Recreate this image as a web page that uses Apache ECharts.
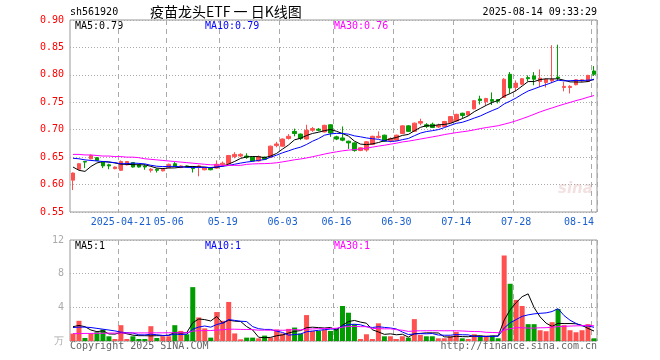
<!DOCTYPE html>
<html><head><meta charset="utf-8">
<script src="https://cdn.jsdelivr.net/npm/echarts@6/dist/echarts.min.js"></script>
<style>html,body{margin:0;padding:0;background:#fff}#c{width:660px;height:360px}</style>
</head><body><div id="c"></div>
<script>
const dates = [
'2025-04-09','2025-04-10','2025-04-11','2025-04-14','2025-04-15','2025-04-16','2025-04-17','2025-04-18','2025-04-21','2025-04-22','2025-04-23','2025-04-24','2025-04-25','2025-04-28','2025-04-29','2025-04-30',
'2025-05-06','2025-05-07','2025-05-08','2025-05-09','2025-05-12','2025-05-13','2025-05-14','2025-05-15','2025-05-16','2025-05-19','2025-05-20','2025-05-21','2025-05-22','2025-05-23','2025-05-26','2025-05-27','2025-05-28','2025-05-29','2025-05-30',
'2025-06-03','2025-06-04','2025-06-05','2025-06-06','2025-06-09','2025-06-10','2025-06-11','2025-06-12','2025-06-13','2025-06-16','2025-06-17','2025-06-18','2025-06-19','2025-06-20','2025-06-23','2025-06-24','2025-06-25','2025-06-26','2025-06-27','2025-06-30',
'2025-07-01','2025-07-02','2025-07-03','2025-07-04','2025-07-07','2025-07-08','2025-07-09','2025-07-10','2025-07-11','2025-07-14','2025-07-15','2025-07-16','2025-07-17','2025-07-18','2025-07-21','2025-07-22','2025-07-23','2025-07-24','2025-07-25','2025-07-28','2025-07-29','2025-07-30','2025-07-31',
'2025-08-01','2025-08-04','2025-08-05','2025-08-06','2025-08-07','2025-08-08','2025-08-11','2025-08-12','2025-08-13','2025-08-14'];

const opens  = [0.608,0.628,0.642,0.647,0.649,0.642,0.636,0.629,0.626,0.636,0.640,0.636,0.634,0.626,0.628,0.625,
0.631,0.638,0.631,0.634,0.632,0.632,0.627,0.630,0.630,0.636,0.638,0.651,0.652,0.652,0.650,0.643,0.650,0.650,0.671,
0.670,0.684,0.697,0.692,0.683,0.699,0.701,0.696,0.709,0.687,0.685,0.679,0.676,0.662,0.663,0.673,0.686,0.690,0.680,0.681,
0.693,0.707,0.697,0.712,0.709,0.710,0.705,0.706,0.713,0.716,0.730,0.727,0.738,0.756,0.751,0.755,0.755,0.759,0.801,0.777,0.783,0.795,0.798,
0.788,0.786,0.789,0.796,0.777,0.777,0.782,0.789,0.788,0.807];
const closes = [0.621,0.638,0.641,0.653,0.644,0.634,0.634,0.632,0.642,0.642,0.632,0.632,0.632,0.628,0.626,0.628,
0.637,0.633,0.634,0.632,0.629,0.634,0.631,0.627,0.637,0.639,0.653,0.655,0.655,0.650,0.643,0.651,0.646,0.670,0.674,
0.683,0.688,0.693,0.684,0.699,0.702,0.699,0.708,0.694,0.683,0.681,0.676,0.662,0.667,0.678,0.688,0.688,0.679,0.684,0.690,
0.707,0.697,0.712,0.715,0.706,0.704,0.708,0.715,0.724,0.728,0.726,0.733,0.753,0.753,0.757,0.752,0.752,0.792,0.776,0.785,0.793,0.793,0.792,
0.794,0.792,0.792,0.794,0.779,0.779,0.791,0.791,0.799,0.801];
const lows   = [0.590,0.627,0.630,0.646,0.643,0.630,0.628,0.628,0.625,0.635,0.631,0.631,0.627,0.622,0.622,0.624,
0.630,0.632,0.630,0.631,0.622,0.615,0.626,0.626,0.629,0.634,0.637,0.648,0.650,0.647,0.642,0.642,0.645,0.649,0.668,
0.669,0.682,0.688,0.681,0.682,0.696,0.697,0.695,0.687,0.681,0.679,0.665,0.660,0.661,0.660,0.672,0.684,0.678,0.677,0.680,
0.692,0.696,0.696,0.708,0.703,0.703,0.703,0.705,0.712,0.715,0.721,0.726,0.737,0.746,0.744,0.745,0.748,0.758,0.766,0.770,0.781,0.788,0.781,
0.778,0.777,0.785,0.790,0.770,0.766,0.781,0.787,0.787,0.798];
const highs  = [0.622,0.639,0.643,0.655,0.650,0.643,0.638,0.633,0.644,0.643,0.641,0.637,0.637,0.630,0.629,0.629,
0.638,0.641,0.635,0.635,0.633,0.636,0.632,0.631,0.644,0.642,0.654,0.659,0.657,0.657,0.651,0.653,0.651,0.671,0.678,
0.684,0.692,0.702,0.693,0.709,0.705,0.703,0.709,0.710,0.689,0.706,0.680,0.677,0.668,0.679,0.689,0.697,0.691,0.686,0.691,
0.708,0.708,0.713,0.720,0.712,0.713,0.711,0.716,0.725,0.729,0.731,0.734,0.754,0.762,0.758,0.768,0.756,0.794,0.805,0.790,0.794,0.799,0.805,
0.810,0.793,0.854,0.855,0.787,0.781,0.792,0.792,0.800,0.816];

// volume (万)
const volumes = [0.88,2.4,0.36,0.88,1.04,1.36,0.56,0.24,1.88,0.24,0.56,0.24,0.24,1.76,0.36,0.56,
0.56,1.88,1.2,0.8,6.4,2.8,1.5,0.4,3.44,2.4,4.64,0.9,0.2,0.4,0.4,0.32,0.64,0.4,1.36,
0.9,1.44,1.6,0.88,3.08,1.2,1.2,1.36,1.2,1.48,4.16,3.36,2.0,0.24,0.8,0.24,2.1,0.56,0.56,0.24,
0.56,0.4,2.6,0.72,0.56,0.56,0.32,0.32,0.56,1.08,0.32,0.24,0.8,0.64,0.64,0.64,0.32,10.16,6.8,4.88,4.16,2.0,2.0,
1.28,1.16,2.24,3.8,1.88,1.28,1.04,1.28,2.0,0.32];

// moving-average values read at the start of the window (before enough in-window data exists)
const ma5Lead  = [0.632,0.626,0.624,0.633];
const ma10Lead = [0.648,0.647,0.645,0.644,0.643,0.642,0.641,0.640,0.638];
const ma30Lead = [0.655,0.655,0.654,0.654,0.653,0.652,0.652,0.651,0.651,0.650,0.650,0.649,0.647,0.646,0.645,0.644,0.643,0.642,0.641,0.640,0.639,0.638,0.637,0.636,0.636,0.635,0.635,0.635,0.635];
const vma5Lead  = [1.7,1.85,1.7,1.3];
const vma10Lead = [1.6,1.65,1.65,1.6,1.5,1.4,1.3,1.2,1.05];
const vma30Lead = [0.88,0.88,0.9,0.9,0.92,0.92,0.94,0.94,0.95,0.95,0.96,0.96,0.96,0.97,0.97,0.97,0.98,0.98,0.98,0.98,1.18,1.22,1.24,1.24,1.3,1.34,1.4,1.4,1.38];

const tickDates  = ['2025-04-21','2025-05-06','2025-05-19','2025-06-03','2025-06-16','2025-06-30','2025-07-14','2025-07-28','2025-08-14'];
const tickLabels = ['2025-04-21','05-06','05-19','06-03','06-16','06-30','07-14','07-28','08-14'];
const priceTicks = {min:0.55, max:0.90, step:0.05};
const volTicks = {min:0, max:12, step:4};

const legendPrice = ['MA5:0.79','MA10:0.79','MA30:0.76'];
const legendVol = ['MA5:1','MA10:1','MA30:1'];

function ma(src, n, lead){
  return src.map((v,i)=>{
    if(i < n-1) return lead[i];
    let s=0; for(let k=i-n+1;k<=i;k++) s+=src[k];
    return +(s/n).toFixed(4);
  });
}
const UP='#ff5050', DOWN='#009c00';
const MONO='DejaVu Sans Mono';
const kData = dates.map((d,i)=>[opens[i],closes[i],lows[i],highs[i]]);
const volData = volumes.map((v,i)=>({value:v,itemStyle:{color: closes[i]>=opens[i]?UP:DOWN}}));
const tickSet = new Set(tickDates.map(d=>dates.indexOf(d)));
const showTick = (i)=>tickSet.has(i);

const chart = echarts.init(document.getElementById('c'), null, {renderer:'canvas'});
const lineS = (name,data,color,x,y)=>({name,type:'line',data,xAxisIndex:x,yAxisIndex:y,symbol:'none',smooth:false,
  lineStyle:{color,width:1},itemStyle:{color},silent:true,z:3});
const splitX = {show:true, interval:(i)=>showTick(i), lineStyle:{color:'#aaa',type:[5,4],width:1}};

chart.setOption({
  animation:false,
  backgroundColor:'#fff',
  grid:[
    {left:70,right:63,top:20,height:192,show:true,borderColor:'#999',borderWidth:1,backgroundColor:'transparent'},
    {left:70,right:63,top:240,height:101,show:true,borderColor:'#999',borderWidth:1,backgroundColor:'transparent'}
  ],
  xAxis:[
    {type:'category',data:dates,gridIndex:0,boundaryGap:true,axisLine:{show:false},axisTick:{show:false},
     axisLabel:{interval:(i)=>showTick(i),formatter:(v)=>tickLabels[tickDates.indexOf(v)],color:'#1a5fd0',fontFamily:MONO,fontSize:10,margin:5,alignMaxLabel:'right'},
     splitLine:splitX},
    {type:'category',data:dates,gridIndex:1,boundaryGap:true,axisLine:{show:false},axisTick:{show:false},
     axisLabel:{show:false},splitLine:splitX}
  ],
  yAxis:[
    {type:'value',gridIndex:0,min:priceTicks.min,max:priceTicks.max,interval:priceTicks.step,scale:true,
     axisLine:{show:false},axisTick:{show:false},
     axisLabel:{color:'#ff0000',fontFamily:MONO,fontSize:10,margin:6,formatter:(v)=>v.toFixed(2)},
     splitLine:{show:true,lineStyle:{color:'#aaa',type:[1,2],width:1}}},
    {type:'value',gridIndex:1,min:volTicks.min,max:volTicks.max,interval:volTicks.step,
     axisLine:{show:false},axisTick:{show:false},
     axisLabel:{color:'#aaa',fontFamily:MONO,fontSize:10,margin:6,formatter:(v)=>v===0?'万':String(v)},
     splitLine:{show:true,lineStyle:{color:'#aaa',type:[1,2],width:1}}}
  ],
  series:[
    {type:'candlestick',data:kData,xAxisIndex:0,yAxisIndex:0,barWidth:4,
     itemStyle:{color:UP,color0:DOWN,borderColor:UP,borderColor0:DOWN,borderWidth:1},z:2},
    lineS('MA5',ma(closes,5,ma5Lead),'#000000',0,0),
    lineS('MA10',ma(closes,10,ma10Lead),'#0000ff',0,0),
    lineS('MA30',ma(closes,30,ma30Lead),'#ff00ff',0,0),
    {type:'bar',data:volData,xAxisIndex:1,yAxisIndex:1,barWidth:5,z:2},
    lineS('VMA5',ma(volumes,5,vma5Lead),'#000000',1,1),
    lineS('VMA10',ma(volumes,10,vma10Lead),'#0000ff',1,1),
    lineS('VMA30',ma(volumes,30,vma30Lead),'#ff00ff',1,1)
  ],
  graphic:[
    {type:'text',left:70,top:7,style:{text:'sh561920',font:'10px "DejaVu Sans Mono"',fill:'#000'}},
    {type:'text',left:150,top:5,style:{text:'疫苗龙头ETF 一 日K线图',font:'14px "Noto Sans CJK SC"',fill:'#000'}},
    {type:'text',right:63,top:7,style:{text:'2025-08-14 09:33:29',font:'10px "DejaVu Sans Mono"',fill:'#000'}},
    {type:'text',left:75,top:21,style:{text:legendPrice[0],font:'10px "DejaVu Sans Mono"',fill:'#000'}},
    {type:'text',left:205,top:21,style:{text:legendPrice[1],font:'10px "DejaVu Sans Mono"',fill:'#0000ff'}},
    {type:'text',left:334,top:21,style:{text:legendPrice[2],font:'10px "DejaVu Sans Mono"',fill:'#ff00ff'}},
    {type:'text',left:75,top:241,style:{text:legendVol[0],font:'10px "DejaVu Sans Mono"',fill:'#000'}},
    {type:'text',left:205,top:241,style:{text:legendVol[1],font:'10px "DejaVu Sans Mono"',fill:'#0000ff'}},
    {type:'text',left:334,top:241,style:{text:legendVol[2],font:'10px "DejaVu Sans Mono"',fill:'#ff00ff'}},
    {type:'text',left:558,top:182,z:0,style:{text:'sina',font:'italic bold 15px "DejaVu Sans"',fill:'rgba(200,120,120,0.22)'}},
    {type:'text',left:70,top:341,style:{text:'Copyright 2025 SINA.COM',font:'10px "DejaVu Sans Mono"',fill:'#666'}},
    {type:'text',right:63,top:341,style:{text:'http://finance.sina.com.cn',font:'10px "DejaVu Sans Mono"',fill:'#666'}}
  ]
});
</script></body></html>
